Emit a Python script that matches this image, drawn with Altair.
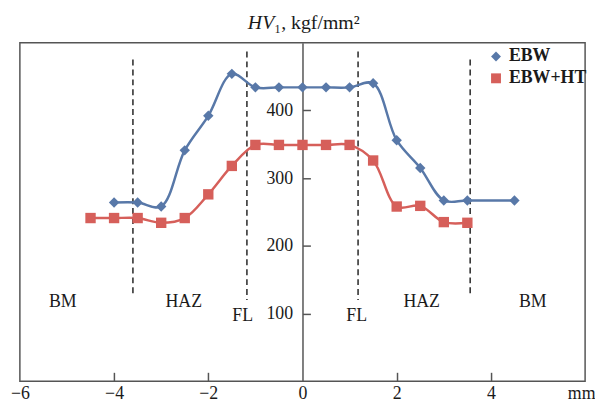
import altair as alt
import pandas as pd

# ---- data ----
ebw_x = [-4.0, -3.5, -3.0, -2.5, -2.0, -1.5, -1.0, -0.5, 0.0, 0.5, 1.0, 1.5, 2.0, 2.5, 3.0, 3.5, 4.5]
ebw_hv = [264, 264, 258, 341, 392, 454, 434, 434, 434, 434, 434, 440, 356, 315, 267, 267, 267]

ebwht_x = [-4.5, -4.0, -3.5, -3.0, -2.5, -2.0, -1.5, -1.0, -0.5, 0.0, 0.5, 1.0, 1.5, 2.0, 2.5, 3.0, 3.5]
ebwht_hv = [241, 241, 241, 234, 241, 276, 318, 349, 349, 349, 349, 349, 326, 258, 259, 235, 234]

series_names = ["EBW", "EBW+HT"]
series_colors = ["#5878a8", "#d65f5a"]
series_shapes = ["diamond", "square"]

zone_lines_x = [-3.6, -1.18, 1.18, 3.56]
zone_lines_top = [475, 487, 487, 475]
zone_lines_bottom = [129, 120, 120, 129]

zone_text = ["BM", "HAZ", "FL", "FL", "HAZ", "BM"]
zone_text_x = [-5.09, -2.52, -1.27, 1.15, 2.53, 4.89]
zone_text_y = [117, 117, 96, 96, 117, 117]

x_ticks_labels = [-6, -4, -2, 0, 2, 4, 6]
x_ticks_marks = [-4, -2, 2, 4]
y_ticks = [100, 200, 300, 400]

title_italic = "HV"
title_rest = "\u2081, kgf/mm\u00b2"
title_x = -0.6
title_y = 520

W, H = 571, 342
FONT = "Liberation Serif"
FRAME = "#555555"
TXT = "#1a1a1a"

df = pd.DataFrame({
    "x": ebw_x + ebwht_x,
    "hv": ebw_hv + ebwht_hv,
    "series": ["EBW"] * len(ebw_x) + ["EBW+HT"] * len(ebwht_x),
})
rules_df = pd.DataFrame({"x": zone_lines_x, "y": zone_lines_top, "y2": zone_lines_bottom})
text_df = pd.DataFrame({"t": zone_text, "x": zone_text_x, "y": zone_text_y})
title_df = pd.DataFrame({"x": [title_x], "y": [title_y], "a": [title_italic], "b": [title_rest]})

xs = alt.Scale(domain=[-6, 6], nice=False, zero=False)
ys = alt.Scale(domain=[0, 500], nice=False, zero=False)
cs = alt.Scale(domain=series_names, range=series_colors)
ss = alt.Scale(domain=series_names, range=series_shapes)

lines = alt.Chart(df).mark_line(interpolate="catmull-rom", strokeWidth=2.5).encode(
    x=alt.X("x:Q", scale=xs, axis=alt.Axis(
        orient="bottom", values=x_ticks_labels, ticks=False, domain=False,
        labelExpr="datum.value == 6 ? 'mm' : datum.label",
        labelAlign={"expr": "datum.value == 6 ? 'right' : 'center'"},
        labelOffset={"expr": "datum.value == 6 ? 10 : 0"},
        labelFont=FONT, labelFontSize=18, labelColor=TXT, labelPadding=3,
        title=None, grid=False)),
    y=alt.Y("hv:Q", scale=ys, axis=alt.Axis(
        orient="left", offset=-W / 2, values=y_ticks, ticks=False, domain=True,
        domainColor=FRAME, domainWidth=1.5,
        labelFont=FONT, labelFontSize=18, labelColor=TXT, labelPadding=10,
        title=None, grid=False)),
    color=alt.Color("series:N", scale=cs, legend=None),
)

leg = alt.Legend(
    title=None, orient="none", legendX=472, legendY=5,
    labelFont=FONT, labelFontSize=18, labelFontWeight="bold", labelColor=TXT,
    symbolSize=100, labelOffset=4, rowPadding=4, padding=0)

points = alt.Chart(df).mark_point(filled=True, size=110, opacity=1).encode(
    x=alt.X("x:Q", scale=xs, axis=alt.Axis(
        orient="top", offset=-H, values=x_ticks_marks, ticks=True, tickSize=9,
        tickColor=FRAME, tickWidth=1.5, labels=False, domain=False, title=None, grid=False)),
    y=alt.Y("hv:Q", scale=ys, axis=alt.Axis(
        orient="right", offset=-W / 2, values=y_ticks, ticks=True, tickSize=8,
        tickColor=FRAME, tickWidth=1.5, labels=False, domain=False, title=None, grid=False)),
    color=alt.Color("series:N", scale=cs, legend=leg),
    shape=alt.Shape("series:N", scale=ss, legend=leg),
)

rules = alt.Chart(rules_df).mark_rule(strokeDash=[6, 4], strokeWidth=1.6, color="#333").encode(
    x=alt.X("x:Q", scale=xs, axis=None),
    y=alt.Y("y:Q", scale=ys, axis=None),
    y2="y2:Q",
)

texts = alt.Chart(text_df).mark_text(font=FONT, fontSize=18, color=TXT, baseline="middle").encode(
    x=alt.X("x:Q", scale=xs, axis=None),
    y=alt.Y("y:Q", scale=ys, axis=None),
    text="t:N",
)

title_a = alt.Chart(title_df).mark_text(font=FONT, fontSize=20, fontStyle="italic", color=TXT,
                                        align="right", baseline="alphabetic").encode(
    x=alt.X("x:Q", scale=xs, axis=None),
    y=alt.Y("y:Q", scale=ys, axis=None),
    text="a:N",
)
title_b = alt.Chart(title_df).mark_text(font=FONT, fontSize=20, color=TXT,
                                        align="left", baseline="alphabetic").encode(
    x=alt.X("x:Q", scale=xs, axis=None),
    y=alt.Y("y:Q", scale=ys, axis=None),
    text="b:N",
)

chart = alt.layer(rules, lines, points, texts, title_a, title_b).resolve_axis(
    x="independent", y="independent"
).resolve_legend(
    color="independent", shape="independent"
).properties(
    width=W, height=H,
    padding={"left": 12, "top": 33, "right": 10, "bottom": 24},
    autosize=alt.AutoSizeParams(type="none"),
).configure_view(stroke=FRAME, strokeWidth=1.5)

chart.save("out.html", embed_options={"renderer": "svg", "actions": False})
